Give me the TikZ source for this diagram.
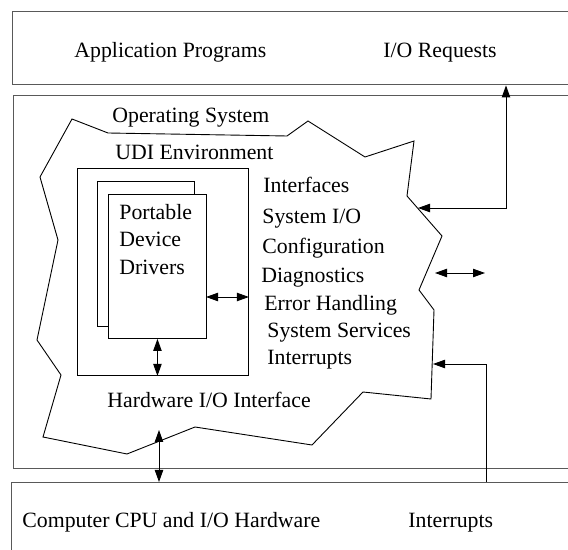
\documentclass[tikz,border=0pt]{standalone}
\usepackage{fontspec}
\setmainfont{Liberation Serif}
\usetikzlibrary{arrows.meta}

\begin{document}
\begin{tikzpicture}[x=0.5pt,y=-0.5pt,
  layer/.style={draw=black!65,line width=0.7pt,inner sep=0pt,anchor=north west},
  page/.style={draw,fill=white,line width=0.45pt,inner sep=0pt,anchor=north west},
  lbl/.style={font=\fontsize{10.9}{13}\selectfont,inner sep=0pt,anchor=base west},
  both/.style={line width=0.45pt,{Triangle[length=6pt,width=4.2pt]}-{Triangle[length=6pt,width=4.2pt]}},
  one/.style={line width=0.45pt,-{Triangle[length=6pt,width=4.2pt]}}]

\clip (0,0) rectangle (568,550);

\node[layer,minimum width=290pt,minimum height=36.5pt] (app) at (12,11) {};
\node[layer,minimum width=290pt,minimum height=186.5pt] (os) at (13,95) {};
\node[layer,minimum width=290pt,minimum height=50pt] (hw) at (11,482) {};

\draw[line width=0.45pt] (72,119) -- (108,133) -- (287,136) -- (308,121) -- (365,157)
  -- (414,141) -- (407,196) -- (442,236) -- (419,290) -- (434,310) -- (431,399)
  -- (363,392) -- (312,445) -- (195,427) -- (127,454) -- (43,437) -- (61,375)
  -- (37,340) -- (58,240) -- (40,177) -- cycle;

\node[page,minimum width=85.5pt,minimum height=103.5pt] (udi) at (77,168) {};
\node[page,minimum width=48.5pt,minimum height=72.5pt] (back) at (97,181) {};
\node[page,minimum width=49pt,minimum height=72pt] (drv) at (108,194) {};

\node[lbl] (appTxt) at (74,58) {Application Programs};
\node[lbl] (reqTxt) at (383,58) {I/O Requests};
\node[lbl] (osTxt) at (112,123) {Operating System};
\node[lbl] (udiTxt) at (115,160) {UDI Environment};
\node[lbl] (drv1) at (119,220) {Portable};
\node[lbl] (drv2) at (119,247) {Device};
\node[lbl] (drv3) at (119,275) {Drivers};
\node[lbl] (if1) at (263,193) {Interfaces};
\node[lbl] (if2) at (262,224) {System I/O};
\node[lbl] (if3) at (262,254) {Configuration};
\node[lbl] (if4) at (261,283) {Diagnostics};
\node[lbl] (if5) at (264,311) {Error Handling};
\node[lbl] (if6) at (267,338) {System Services};
\node[lbl] (if7) at (267,365) {Interrupts};
\node[lbl] (hwIf) at (107,408) {Hardware I/O Interface};
\node[lbl] (cpuTxt) at (22,528) {Computer CPU and I/O Hardware};
\node[lbl] (intTxt) at (408,528) {Interrupts};

\coordinate (osReq) at (418,208);
\coordinate (reqX) at (506,0);
\coordinate (osInt) at (433,364);
\coordinate (intX) at (486,0);
\coordinate (osOut) at (435,273);
\coordinate (svcOut) at (485,273);
\coordinate (drvOut) at (206,297);
\coordinate (osLow) at (159,430);

\draw[both] (osReq) -| (app.south -| reqX);
\draw[one] (hw.north -| intX) |- (osInt);
\draw[both] (osOut) -- (svcOut);
\draw[both] (drvOut) -- (udi.east |- drvOut);
\draw[both] (drv.south) -- (udi.south -| drv.south);
\draw[both] (hw.north -| osLow) -- (osLow);
\end{tikzpicture}
\end{document}
